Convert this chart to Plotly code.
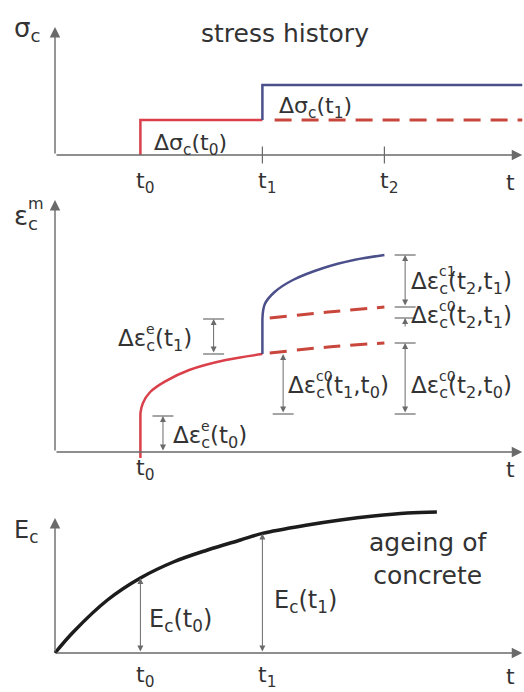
import plotly.graph_objects as go

W, H = 524, 692
X0, XU = 55, 122          # pixel of t = 0 and pixels per time unit

# --- data ----------------------------------------------------------------
t0, t1, t2 = 0.7, 1.7, 2.7
t_end = 3.83
tick_t = [t0, t1, t2, 3.69]
tick_labels = ['t<sub>0</sub>', 't<sub>1</sub>', 't<sub>2</sub>', 't']

# stress history
d_sigma = [1.0, 1.0]                 # Δσc(t0), Δσc(t1)
sigma_dash_start = 1.8

# strain history
creep0_t = [0.7, 0.72, 0.78, 0.9, 1.1, 1.4, 1.7]
creep0_eps = [0.975, 1.22, 1.5, 1.76, 2.05, 2.3, 2.45]
blue_jump = [2.45, 3.325]
blue_t = [1.7, 1.72, 1.8, 1.95, 2.2, 2.45, 2.7]
blue_eps = [3.325, 3.7, 4.0, 4.3, 4.6, 4.8, 4.925]
upper_dash_t = [1.76, 2.24, 2.7]
upper_dash_eps = [3.35, 3.5, 3.625]
lower_dash_t = [1.76, 2.24, 2.7]
lower_dash_eps = [2.475, 2.625, 2.725]

# dimension lines in the strain panel
dim_x = [1.3, 0.885, 1.87, 2.87, 2.87]
dim_lo = [2.45, 0.0, 0.95, 3.625, 0.95]
dim_hi = [3.325, 0.9, 2.45, 4.925, 2.725]
dim_tick_x = [1.3, 1.3, 0.885, 1.87, 2.87, 2.87, 2.87, 2.87, 2.87]
dim_tick_y = [2.45, 3.325, 0.9, 0.95, 4.925, 3.625, 3.35, 2.725, 0.95]

# modulus of elasticity (ageing)
E_t = [0, 0.15, 0.43, 0.7, 0.97, 1.25, 1.52, 1.7, 2.07, 2.34, 2.61, 2.89, 3.13]
E_val = [0, 0.525, 1.325, 1.875, 2.275, 2.575, 2.825, 2.99, 3.2, 3.325, 3.425, 3.5, 3.525]

# axis arrow tips (value units)
y_tip = {'y': 3.66, 'y2': 6.3, 'y3': 3.375}

# --- colours / fonts -------------------------------------------------------
RED = '#d9404a'
RED_D = '#c9463c'
BLUE = '#4b4f8a'
AX = '#6a6a6a'
TXT = '#333333'
FONT = 'DejaVu Sans'

fig = go.Figure()

# stress panel
fig.add_trace(go.Scatter(x=[t0, t0, t1], y=[0, d_sigma[0], d_sigma[0]], yaxis='y',
                         mode='lines', line=dict(color=RED, width=2.5)))
fig.add_trace(go.Scatter(x=[t1, t1, t_end], y=[d_sigma[0], sum(d_sigma), sum(d_sigma)], yaxis='y',
                         mode='lines', line=dict(color=BLUE, width=2.5)))
fig.add_trace(go.Scatter(x=[sigma_dash_start, t_end], y=[d_sigma[0], d_sigma[0]], yaxis='y',
                         mode='lines', line=dict(color=RED_D, width=3, dash='17px,10px')))
fig.add_trace(go.Scatter(x=[t1, t2], y=[0, 0], yaxis='y', mode='markers',
                         marker=dict(symbol='line-ns', size=12, line=dict(color=AX, width=1.2))))

# strain panel
fig.add_trace(go.Scatter(x=[t0, t0], y=[-0.15, creep0_eps[0]], yaxis='y2',
                         mode='lines', line=dict(color=RED, width=2.5)))
fig.add_trace(go.Scatter(x=creep0_t, y=creep0_eps, yaxis='y2', mode='lines', line_shape='spline',
                         line=dict(color=RED, width=2.5)))
fig.add_trace(go.Scatter(x=[t1, t1], y=blue_jump, yaxis='y2',
                         mode='lines', line=dict(color=BLUE, width=2.5)))
fig.add_trace(go.Scatter(x=blue_t, y=blue_eps, yaxis='y2', mode='lines', line_shape='spline',
                         line=dict(color=BLUE, width=2.5)))
for tt, ee in [(upper_dash_t, upper_dash_eps), (lower_dash_t, lower_dash_eps)]:
    fig.add_trace(go.Scatter(x=tt, y=ee, yaxis='y2', mode='lines', line_shape='spline',
                             line=dict(color=RED_D, width=3, dash='17px,10px')))
fig.add_trace(go.Scatter(x=dim_tick_x, y=dim_tick_y, yaxis='y2', mode='markers',
                         marker=dict(symbol='line-ew', size=15, line=dict(color=AX, width=1.2))))

# modulus panel
fig.add_trace(go.Scatter(x=E_t, y=E_val, yaxis='y3', mode='lines', line_shape='spline',
                         line=dict(color='#1c1c1c', width=3.5)))

ann = []


def arrow(x, y, ax, ay, yr, both=False, size=1.2, width=1.0):
    a = dict(x=x, y=y, ax=ax, ay=ay, xref='x', yref=yr, axref='x', ayref=yr,
             text='', showarrow=True, arrowhead=2, arrowsize=size, arrowwidth=width,
             arrowcolor=AX)
    if both:
        a.update(arrowside='end+start', startarrowhead=2, startarrowsize=size)
    ann.append(a)


def label(text, xpx, ypx, size=22, xanchor='center', color=TXT):
    ann.append(dict(x=xpx / W, y=1 - ypx / H, xref='paper', yref='paper', text=text,
                    showarrow=False, xanchor=xanchor, yanchor='middle',
                    font=dict(family=FONT, size=size, color=color)))


def stacked(main, sup, xpx, ypx, lead, size=23, rise=0.5):
    # text with a superscript stacked over the subscript
    label(main, xpx, ypx, size=size, xanchor='left')
    label(sup, xpx + lead * size, ypx - rise * size, size=int(size * 0.64), xanchor='left')


# axes with arrow heads
for yr in ['y', 'y2', 'y3']:
    arrow(t_end, 0, 0, 0, yr, size=1.5, width=1.4)
    arrow(0, y_tip[yr], 0, 0, yr, size=1.5, width=1.4)

# dimension arrows in the strain panel
for xx, lo, hi in zip(dim_x, dim_lo, dim_hi):
    arrow(xx, hi, xx, lo, 'y2', both=True)
arrow(dim_x[3], dim_tick_y[6], dim_x[3], 3.1, 'y2')

# modulus arrows
arrow(t0, E_val[E_t.index(t0)], t0, 0, 'y3', both=True)
arrow(t1, E_val[E_t.index(t1)], t1, 0, 'y3', both=True)

# titles and axis names
label('stress history', 285, 33, size=25)
label('σ<sub>c</sub>', 12, 30, size=26, xanchor='left')
stacked('ε<sub>c</sub>', 'm', 12, 217, 0.55, size=26, rise=0.52)
label('E<sub>c</sub>', 12, 531, size=24, xanchor='left')
label('ageing of<br>concrete', 428, 559, size=25)

# tick labels
tick_y_px = [182, 469, 676]
for i, lab in enumerate(tick_labels):
    label(lab, X0 + XU * tick_t[i] + 5, tick_y_px[0], size=22)
for i in [0, 3]:
    label(tick_labels[i], X0 + XU * tick_t[i] + 5, tick_y_px[1], size=22)
for i in [0, 1, 3]:
    label(tick_labels[i], X0 + XU * tick_t[i] + 5, tick_y_px[2], size=22)

# stress annotations
label('Δσ<sub>c</sub>(t<sub>1</sub>)', 277, 107, size=22, xanchor='left')
label('Δσ<sub>c</sub>(t<sub>0</sub>)', 152, 144, size=22, xanchor='left')

# strain annotations
stacked('Δε<sub>c</sub>(t<sub>1</sub>)', 'e', 116, 340, 1.225)
stacked('Δε<sub>c</sub>(t<sub>0</sub>)', 'e', 171, 437, 1.225)
stacked('Δε<sub>c</sub>(t<sub>1</sub>,t<sub>0</sub>)', 'c0', 286, 387, 1.225)
stacked('Δε<sub>c</sub>(t<sub>2</sub>,t<sub>1</sub>)', 'c1', 409, 283, 1.225)
stacked('Δε<sub>c</sub>(t<sub>2</sub>,t<sub>1</sub>)', 'c0', 409, 317, 1.225)
stacked('Δε<sub>c</sub>(t<sub>2</sub>,t<sub>0</sub>)', 'c0', 409, 387, 1.225)

# modulus annotations
label('E<sub>c</sub>(t<sub>0</sub>)', 147, 620, size=24, xanchor='left')
label('E<sub>c</sub>(t<sub>1</sub>)', 272, 601, size=24, xanchor='left')


def yaxis_px(top_px, bot_px, base, unit):
    return dict(domain=[1 - bot_px / H, 1 - top_px / H],
                range=[(base - bot_px) / unit, (base - top_px) / unit],
                visible=False, anchor='x', fixedrange=True)


fig.update_layout(
    width=W, height=H,
    margin=dict(l=0, r=0, t=0, b=0),
    paper_bgcolor='white', plot_bgcolor='white',
    showlegend=False,
    xaxis=dict(range=[-X0 / XU, (W - X0) / XU], domain=[0, 1], visible=False, fixedrange=True),
    yaxis=yaxis_px(0, 192, 155, 35),
    yaxis2=yaxis_px(192, 478, 452, 40),
    yaxis3=yaxis_px(478, 692, 653, 40),
    annotations=ann,
)

fig.write_html("out.html", config={'displayModeBar': False},
               post_script="document.body.style.margin='0';")
